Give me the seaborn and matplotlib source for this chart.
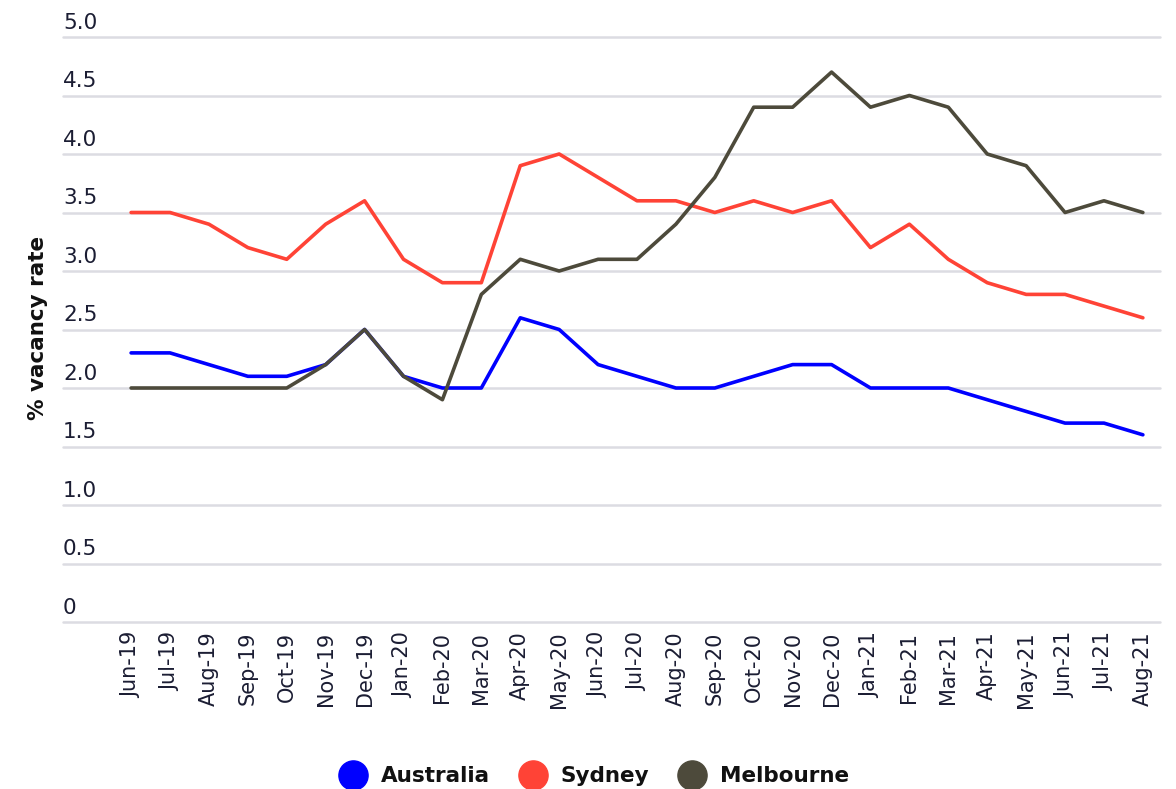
import seaborn as sns
import matplotlib.pyplot as plt
import matplotlib.transforms as mtransforms
from matplotlib.lines import Line2D
import pandas as pd

# -------------------------------
# Data
# -------------------------------
months = ["Jun-19", "Jul-19", "Aug-19", "Sep-19", "Oct-19", "Nov-19", "Dec-19",
          "Jan-20", "Feb-20", "Mar-20", "Apr-20", "May-20", "Jun-20", "Jul-20",
          "Aug-20", "Sep-20", "Oct-20", "Nov-20", "Dec-20", "Jan-21", "Feb-21",
          "Mar-21", "Apr-21", "May-21", "Jun-21", "Jul-21", "Aug-21"]

australia = [2.3, 2.3, 2.2, 2.1, 2.1, 2.2, 2.5, 2.1, 2.0, 2.0, 2.6, 2.5, 2.2, 2.1,
             2.0, 2.0, 2.1, 2.2, 2.2, 2.0, 2.0, 2.0, 1.9, 1.8, 1.7, 1.7, 1.6]
sydney = [3.5, 3.5, 3.4, 3.2, 3.1, 3.4, 3.6, 3.1, 2.9, 2.9, 3.9, 4.0, 3.8, 3.6,
          3.6, 3.5, 3.6, 3.5, 3.6, 3.2, 3.4, 3.1, 2.9, 2.8, 2.8, 2.7, 2.6]
melbourne = [2.0, 2.0, 2.0, 2.0, 2.0, 2.2, 2.5, 2.1, 1.9, 2.8, 3.1, 3.0, 3.1, 3.1,
             3.4, 3.8, 4.4, 4.4, 4.7, 4.4, 4.5, 4.4, 4.0, 3.9, 3.5, 3.6, 3.5]

series_names = ["Australia", "Sydney", "Melbourne"]
colors = ["#0000ff", "#ff4336", "#4d4a3b"]

y_ticks = [0, 0.5, 1.0, 1.5, 2.0, 2.5, 3.0, 3.5, 4.0, 4.5, 5.0]
y_tick_labels = ["0", "0.5", "1.0", "1.5", "2.0", "2.5", "3.0", "3.5", "4.0", "4.5", "5.0"]

df = pd.DataFrame({
    "Month": months * 3,
    "Rate": australia + sydney + melbourne,
    "Series": [n for n in series_names for _ in months],
})

# -------------------------------
# Styling
# -------------------------------
sns.set_style("white")
plt.rcParams["font.family"] = ["DejaVu Sans"]
text_color = "#1b1d33"

fig = plt.figure(figsize=(11.76, 7.89), dpi=100)
ax = fig.add_axes([63 / 1176, 1 - 622 / 789, (1160 - 63) / 1176, (622 - 37) / 789])

sns.lineplot(data=df, x="Month", y="Rate", hue="Series", palette=colors,
             sort=False, linewidth=2.6, legend=False, ax=ax)

ax.set_xlim(-1.75, 26.44)
ax.set_ylim(0, 5.0)

# horizontal grid only
ax.set_yticks(y_ticks)
ax.set_yticklabels(y_tick_labels)
ax.yaxis.grid(True, color="#dcdce2", linewidth=1.8)
ax.xaxis.grid(False)
for gl in ax.get_ygridlines():
    gl.set_clip_on(False)
for s in ax.spines.values():
    s.set_visible(False)

# y labels sit above each gridline, left aligned
ax.tick_params(axis="y", length=0, pad=0, labelsize=15.5, labelcolor=text_color)
shift = mtransforms.ScaledTranslation(0, 3 / 72, fig.dpi_scale_trans)
for lab in ax.get_yticklabels():
    lab.set_horizontalalignment("left")
    lab.set_verticalalignment("bottom")
    lab.set_transform(lab.get_transform() + shift)

ax.set_xticks(range(len(months)))
ax.set_xticklabels(months, rotation=90)
ax.tick_params(axis="x", length=0, pad=7, labelsize=15, labelcolor=text_color)
ax.set_xlabel("")

ax.set_ylabel("")
fig.text(38 / 1176, 1 - 328 / 789, "% vacancy rate", rotation=90, ha="center",
         va="center", fontsize=15.5, fontweight="bold", color="#111111")

# legend with round markers at the bottom
handles = [Line2D([], [], marker="o", linestyle="", markersize=21, color=c)
           for c in colors]
fig.legend(handles, series_names, loc="center", bbox_to_anchor=(0.502, 0.016),
           ncol=3, frameon=False, handletextpad=0.3, columnspacing=1.0,
           prop={"weight": "bold", "size": 15.5})
for t in fig.legends[0].get_texts():
    t.set_color("#111111")

plt.savefig("out.png", dpi=100)
plt.close()
